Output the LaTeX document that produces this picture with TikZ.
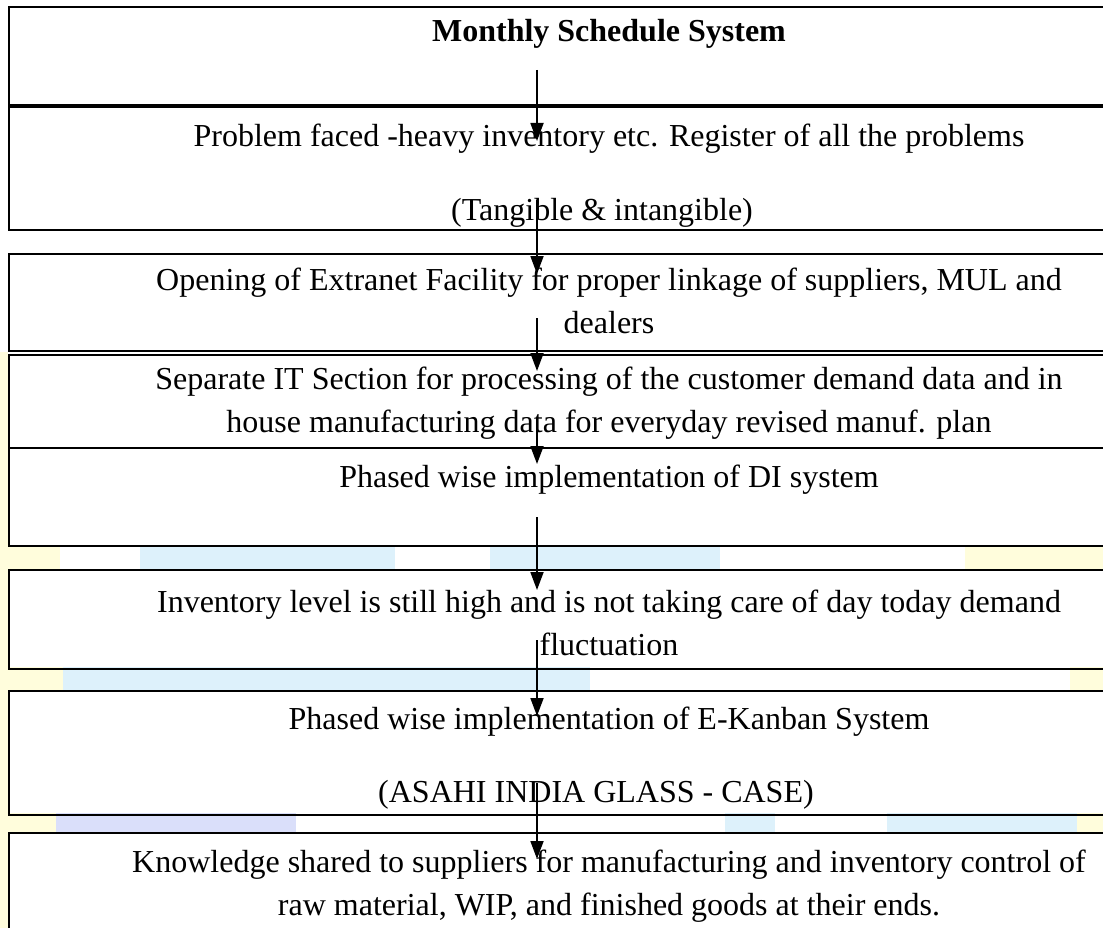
\documentclass[tikz,border=0pt]{standalone}
\usepackage{fontspec}
\setmainfont{Liberation Serif}
\usetikzlibrary{arrows.meta}

\definecolor{paleyellow}{HTML}{FFFDDC}
\definecolor{paleblue}{HTML}{DDF1FB}
\definecolor{palelilac}{HTML}{DADFFA}

\begin{document}
\begin{tikzpicture}[x=1pt, y=-1pt,
    box/.style={draw=black, line width=2.2pt, minimum width=1202pt, inner sep=0pt, anchor=north west}, % table cells
    txt/.style={font=\fontsize{32}{43}\selectfont, align=center, inner sep=0pt}, % cell text
    flow/.style={-{Triangle[length=18pt, width=13pt]}, line width=1.8pt} % downward arrows
]

    \useasboundingbox (0,0) rectangle (1103,928);
    \clip (0,0) rectangle (1103,928);

    % Faint watermark behind the chart
    \fill[paleyellow] (0,352) rectangle (8,928);
    \fill[paleyellow] (0,545) rectangle (60,569);
    \fill[paleblue] (140,545) rectangle (395,569);
    \fill[paleblue] (490,545) rectangle (720,569);
    \fill[paleyellow] (965,545) rectangle (1103,569);
    \fill[paleyellow] (0,667) rectangle (63,690);
    \fill[paleblue] (63,667) rectangle (590,690);
    \fill[paleyellow] (1070,667) rectangle (1103,690);
    \fill[paleyellow] (0,813) rectangle (56,832);
    \fill[palelilac] (56,813) rectangle (296,832);
    \fill[paleblue] (725,813) rectangle (775,832);
    \fill[paleblue] (887,813) rectangle (1077,832);
    \fill[paleyellow] (1077,813) rectangle (1103,832);

    % Cells (right edges run off the page)
    \node[box, minimum height=98pt] (b1) at (8,6) {};
    \node[box, minimum height=123pt] (b2) at (8,106) {};
    \node[box, minimum height=97pt] (b3) at (8,253) {};
    \node[box, minimum height=93pt] (b4) at (8,354) {};
    \node[box, minimum height=98pt] (b5) at (8,447) {};
    \node[box, minimum height=99pt] (b6) at (8,569) {};
    \node[box, minimum height=124pt] (b7) at (8,690) {};
    \node[box, minimum height=120pt] (b8) at (8,832) {};

    % Texts
    \node[txt, font=\fontsize{32}{43}\selectfont\bfseries] (t1) at (609,34) {Monthly Schedule System};
    \node[txt] (t2a) at (609,139) {Problem faced -heavy inventory etc. Register of all the problems};
    \node[txt] (t2b) at (602,213) {(Tangible \& intangible)};
    \node[txt] (t3) at (609,301) {Opening of Extranet Facility for proper linkage of suppliers, MUL and\\ dealers};
    \node[txt] (t4) at (609,403) {Separate IT Section for processing of the customer demand data and in\\ house manufacturing data for everyday revised manuf. plan};
    \node[txt] (t5) at (609,480) {Phased wise implementation of DI system};
    \node[txt] (t6) at (609,623) {Inventory level is still high and is not taking care of day today demand\\ fluctuation};
    \node[txt] (t7a) at (609,722) {Phased wise implementation of E-Kanban System};
    \node[txt] (t7b) at (596,795) {(ASAHI INDIA GLASS - CASE)};
    \node[txt] (t8) at (609,886) {Knowledge shared to suppliers for manufacturing and inventory control of\\ raw material, WIP, and finished goods at their ends.};

    % Arrow ends
    \coordinate (s1) at (537,70);  \coordinate (e1) at (537,141);
    \coordinate (s2) at (537,200); \coordinate (e2) at (537,274);
    \coordinate (s3) at (537,318); \coordinate (e3) at (537,371);
    \coordinate (s4) at (537,420); \coordinate (e4) at (537,464);
    \coordinate (s5) at (537,517); \coordinate (e5) at (537,590);
    \coordinate (s6) at (537,640); \coordinate (e6) at (537,716);
    \coordinate (s7) at (537,783); \coordinate (e7) at (537,859);

    \foreach \i in {1,...,7}
        \draw[flow] (s\i) -- (e\i);

\end{tikzpicture}
\end{document}
